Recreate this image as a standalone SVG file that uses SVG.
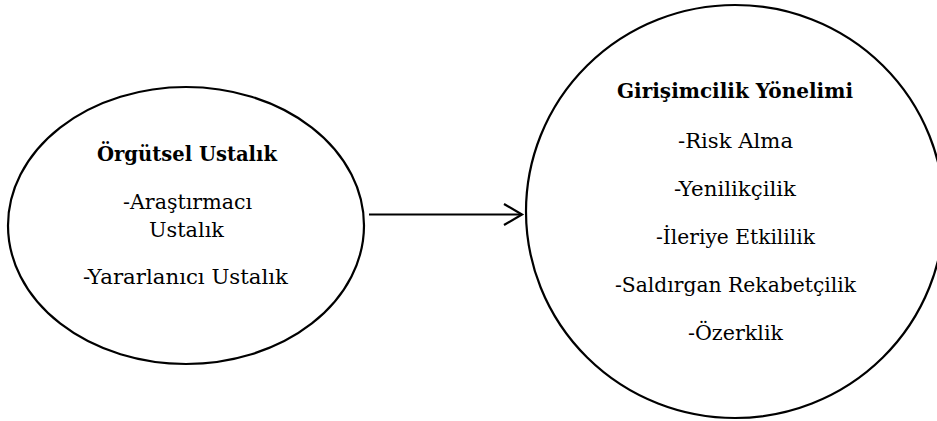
<svg xmlns="http://www.w3.org/2000/svg" width="937" height="421" viewBox="0 0 937 421">
<style>
.shape{fill:#fff;stroke:#000;stroke-width:2.2}
.t{font-family:"DejaVu Serif","Liberation Serif",serif;font-size:20.5px;fill:#000;text-anchor:middle}
.b{font-weight:bold}
.conn{fill:none;stroke:#000;stroke-width:2.2}
</style>
<defs>
<marker id="arr" markerUnits="userSpaceOnUse" markerWidth="24" markerHeight="26" refX="20" refY="12" orient="auto">
<path d="M2,1.5 L20,12 L2,22.5" fill="none" stroke="#000" stroke-width="2.2"/>
</marker>
</defs>
<rect width="937" height="421" fill="#fff"/>
<g id="orgutsel-ustalik">
<ellipse class="shape" cx="186" cy="225.5" rx="178" ry="138.5"/>
<text class="t b" x="187" y="161" textLength="180" lengthAdjust="spacingAndGlyphs">Örgütsel Ustalık</text>
<text class="t" x="187.5" y="209" textLength="129" lengthAdjust="spacingAndGlyphs">-Araştırmacı</text>
<text class="t" x="186.5" y="237" textLength="75" lengthAdjust="spacingAndGlyphs">Ustalık</text>
<text class="t" x="185.5" y="284" textLength="205" lengthAdjust="spacingAndGlyphs">-Yararlanıcı Ustalık</text>
</g>
<g id="girisimcilik-yonelimi">
<ellipse class="shape" cx="735" cy="211.5" rx="209" ry="206.5"/>
<text class="t b" x="735" y="98" textLength="236" lengthAdjust="spacingAndGlyphs">Girişimcilik Yönelimi</text>
<text class="t" x="735.5" y="147.5" textLength="115" lengthAdjust="spacingAndGlyphs">-Risk Alma</text>
<text class="t" x="735" y="195.5" textLength="122" lengthAdjust="spacingAndGlyphs">-Yenilikçilik</text>
<text class="t" x="735.5" y="243.5" textLength="159" lengthAdjust="spacingAndGlyphs">-İleriye Etkililik</text>
<text class="t" x="735.5" y="291.5" textLength="241" lengthAdjust="spacingAndGlyphs">-Saldırgan Rekabetçilik</text>
<text class="t" x="735.5" y="339.5" textLength="95" lengthAdjust="spacingAndGlyphs">-Özerklik</text>
</g>
<g id="connectors">
<path class="conn" d="M369,214.5 L522,214.5" marker-end="url(#arr)"/>
</g>
</svg>
